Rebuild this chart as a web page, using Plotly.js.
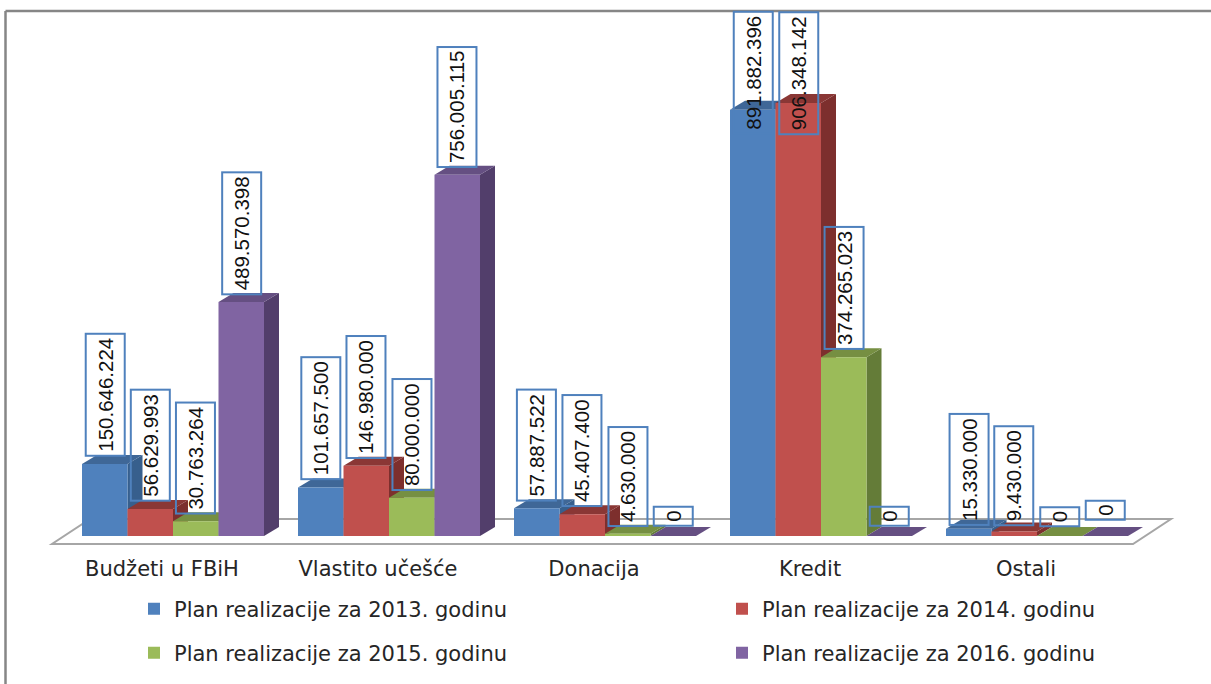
<!DOCTYPE html>
<html><head><meta charset="utf-8">
<script src="https://cdn.plot.ly/plotly-3.0.1.min.js"></script>
<style>html,body{margin:0;padding:0;background:#fff}#c{width:1211px;height:684px}</style>
</head><body><div id="c"></div>
<script>
const categories = ["Budžeti u FBiH","Vlastito učešće","Donacija","Kredit","Ostali"];
const seriesNames = ["Plan realizacije za 2013. godinu","Plan realizacije za 2014. godinu","Plan realizacije za 2015. godinu","Plan realizacije za 2016. godinu"];
const plan2013 = [150646224,101657500,57887522,891882396,15330000];
const plan2014 = [56629993,146980000,45407400,906348142,9430000];
const plan2015 = [30763264,80000000,4630000,374265023,0];
const plan2016 = [489570398,756005115,0,0,0];
const allSeries = [plan2013,plan2014,plan2015,plan2016];

const W=1211,H=684,plotBottom=553;
const pxPerUnitX=216, pxPerValue=0.4778e-6, zeroPx=536, firstCatPx=173;
const frontColors=["#4f81bd","#c0504d","#9bbb59","#8064a2"];
const sideColors=["#375f8d","#7d2f2d","#647c38","#523e6b"];
const topColors=["#3f6797","#8a3735","#768f42","#654f82"];
const barW=182/216/4;
const dx=15/pxPerUnitX, dy=9/pxPerValue;
const labelCeiling=(zeroPx-142)/pxPerValue;
const labelNudge={"4,0":-4,"4,1":-2,"4,3":6};
const fontLbl="Liberation Sans, sans-serif";
const fontTxt="DejaVu Sans, sans-serif";
const fmt=v=>String(v).replace(/\B(?=(\d{3})+$)/g,".");
const px=p=>p/W, py=p=>(plotBottom-p)/plotBottom;

const shapes=[];
shapes.push({type:"path",xref:"paper",yref:"paper",layer:"below",
  path:`M${px(52)},${py(544)}L${px(1133)},${py(544)}L${px(1171)},${py(519)}L${px(90)},${py(519)}Z`,
  fillcolor:"#fff",line:{color:"#a6a6a6",width:2}});
[[5.5,684,5.5,11],[5.5,11,1211,11]].forEach(l=>shapes.push({type:"line",xref:"paper",yref:"paper",
  x0:px(l[0]),y0:py(l[1]),x1:px(l[2]),y1:py(l[3]),line:{color:"#868686",width:2.5}}));

const annotations=[], traces=[];
const legendPos=[[134,609],[722,609],[134,653],[722,653]];
const layoutLegends={};
allSeries.forEach((vals,s)=>{
  const key=s===0?"legend":"legend"+(s+1);
  traces.push({type:"bar",name:seriesNames[s],x:categories.map((_,i)=>i),y:vals,
    marker:{color:frontColors[s],line:{width:0}},hoverinfo:"skip",legend:key,showlegend:true});
  layoutLegends[key]={x:px(legendPos[s][0]),y:py(legendPos[s][1]),xanchor:"left",yanchor:"middle",
    bgcolor:"rgba(0,0,0,0)",borderwidth:0,font:{family:fontTxt,size:21,color:"#262626"},itemclick:false,itemdoubleclick:false};
});
categories.forEach((_,i)=>{
  allSeries.forEach((vals,s)=>{
    const v=vals[i], x0=i+(s-2)*barW, x1=x0+barW;
    if(v>0) shapes.push({type:"path",xref:"x",yref:"y",layer:"below",line:{width:0},fillcolor:sideColors[s],
      path:`M${x1},0L${x1+dx},${dy}L${x1+dx},${v+dy}L${x1},${v}Z`});
    shapes.push({type:"path",xref:"x",yref:"y",layer:"below",line:{width:0},fillcolor:topColors[s],
      path:`M${x0},${v}L${x0+dx},${v+dy}L${x1+dx},${v+dy}L${x1},${v}Z`});
    annotations.push({xref:"x",yref:"y",x:(x0+x1)/2,y:Math.min(v,labelCeiling),yanchor:"bottom",xanchor:"center",
      yshift:(v===0?9:7)+(labelNudge[i+","+s]||0),showarrow:false,text:fmt(v),textangle:-90,height:31,valign:"middle",
      font:{family:fontLbl,size:20.5,color:"#111"},bordercolor:"#4f81bd",borderwidth:2,borderpad:3,bgcolor:"rgba(0,0,0,0)"});
  });
});

const layout=Object.assign({
  width:W,height:H,margin:{l:0,r:0,t:0,b:H-plotBottom,autoexpand:false},
  paper_bgcolor:"#fff",plot_bgcolor:"rgba(0,0,0,0)",
  barmode:"group",bargap:1-4*barW,bargroupgap:0,
  xaxis:{type:"linear",range:[(0-firstCatPx)/pxPerUnitX,(W-firstCatPx)/pxPerUnitX],tickmode:"array",
    tickvals:categories.map((_,i)=>i),ticktext:categories,showgrid:false,zeroline:false,showline:false,ticks:"",automargin:false,
    ticklabelshift:-11,ticklabelstandoff:1,tickfont:{family:fontTxt,size:21,color:"#262626"}},
  yaxis:{visible:false,range:[(zeroPx-plotBottom)/(pxPerValue),zeroPx/pxPerValue],showgrid:false,zeroline:false,automargin:false},
  shapes,annotations,showlegend:true
},layoutLegends);
Plotly.newPlot("c",traces,layout,{displayModeBar:false,staticPlot:true});
</script></body></html>
